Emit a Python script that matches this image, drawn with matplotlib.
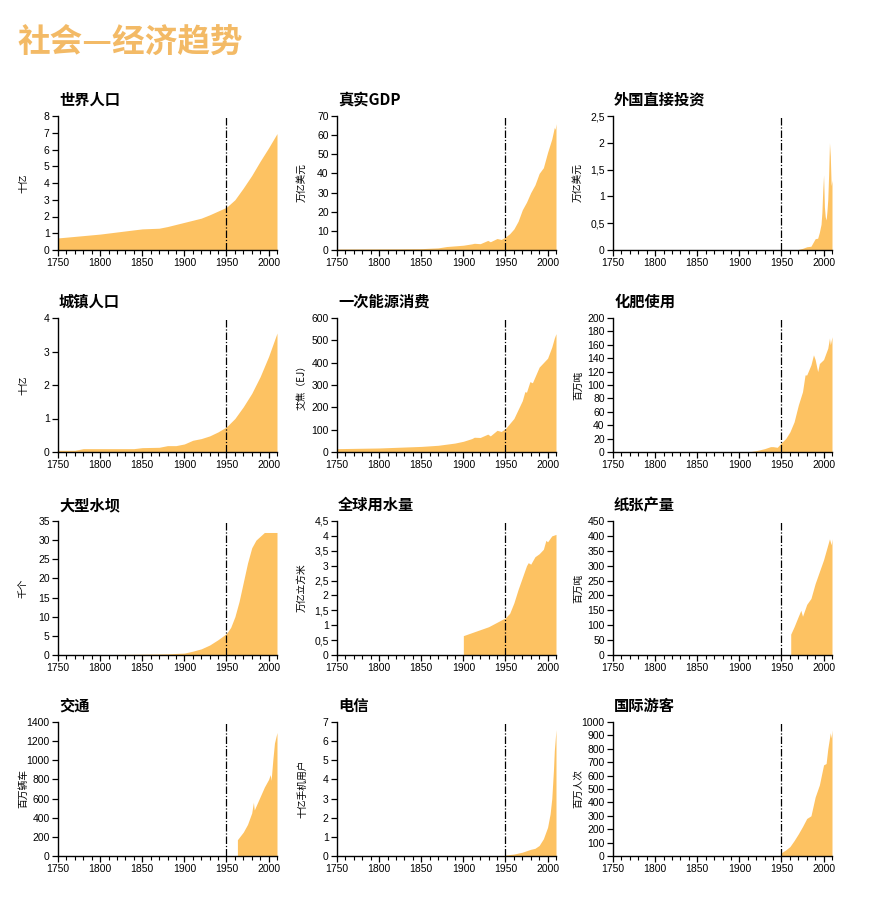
import matplotlib
matplotlib.use("Agg")

import matplotlib.pyplot as plt
import numpy as np
from matplotlib.ticker import MultipleLocator, FuncFormatter

plt.rcParams["font.family"] = ["Noto Sans CJK SC", "DejaVu Sans"]

FILL = "#FDC262"
TITLE_COLOR = "#F3BA66"
NUM_FONT = ["Liberation Sans Narrow", "Liberation Sans", "DejaVu Sans"]

# --- data ---
pop_years = [1750, 1800, 1840, 1850, 1870, 1880, 1900, 1920, 1930, 1950, 1960, 1970, 1980, 1990, 2000, 2010]
pop_vals = [0.72, 0.95, 1.2, 1.26, 1.3, 1.4, 1.65, 1.9, 2.1, 2.55, 3.0, 3.7, 4.45, 5.3, 6.1, 6.95]

gdp_years = [1750, 1820, 1850, 1870, 1880, 1900, 1910, 1913, 1920, 1929, 1932, 1940, 1945, 1950,
             1955, 1960, 1965, 1970, 1975, 1980, 1985, 1990, 1995, 2000, 2005, 2008, 2009, 2010]
gdp_vals = [0.5, 0.6, 0.7, 1.1, 1.8, 2.5, 3.2, 3.5, 3.3, 5.0, 4.3, 6.0, 5.5, 6.8,
            8.5, 11, 15, 21, 25, 30, 34, 40, 43, 51, 58, 64, 63, 66]

fdi_years = [1970, 1975, 1980, 1985, 1990, 1993, 1995, 1997, 1998, 1999, 2000, 2001, 2002, 2003,
             2004, 2005, 2006, 2007, 2008, 2009, 2010]
fdi_vals = [0.01, 0.03, 0.06, 0.07, 0.21, 0.22, 0.33, 0.48, 0.7, 1.1, 1.4, 0.8, 0.62, 0.56,
            0.72, 0.95, 1.4, 2.0, 1.75, 1.2, 1.3]

urb_years = [1750, 1770, 1780, 1840, 1850, 1870, 1880, 1890, 1900, 1910, 1920, 1930, 1940, 1950,
             1960, 1970, 1980, 1990, 2000, 2010]
urb_vals = [0.05, 0.05, 0.1, 0.1, 0.13, 0.14, 0.19, 0.19, 0.24, 0.35, 0.4, 0.48, 0.6, 0.75,
            1.0, 1.35, 1.75, 2.25, 2.85, 3.55]

eng_years = [1750, 1800, 1850, 1870, 1880, 1890, 1900, 1910, 1913, 1920, 1929, 1932, 1940, 1945,
             1950, 1960, 1970, 1973, 1975, 1979, 1982, 1990, 1995, 2000, 2005, 2008, 2010]
eng_vals = [15, 18, 25, 30, 35, 40, 48, 60, 66, 65, 80, 72, 97, 92,
            105, 150, 230, 270, 268, 315, 310, 380, 400, 420, 470, 510, 530]

fert_years = [1910, 1920, 1930, 1937, 1940, 1945, 1950, 1955, 1960, 1965, 1970, 1975, 1978, 1980,
              1985, 1988, 1990, 1993, 1995, 2000, 2005, 2007, 2008, 2010]
fert_vals = [0, 2, 5, 8, 8, 7, 14, 20, 30, 45, 70, 90, 115, 115,
             130, 145, 138, 120, 132, 138, 155, 170, 160, 172]

dam_years = [1750, 1850, 1880, 1900, 1910, 1920, 1930, 1940, 1950, 1955, 1960, 1965, 1970, 1975,
             1980, 1985, 1990, 1995, 2000, 2010]
dam_vals = [0, 0.2, 0.3, 0.5, 1.0, 1.6, 2.6, 4.0, 5.6, 7.2, 10, 14, 19, 24,
            28, 30, 31, 32, 32, 32]

wat_years = [1900, 1910, 1920, 1930, 1940, 1950, 1955, 1960, 1965, 1970, 1975, 1977, 1980, 1985,
             1990, 1995, 1998, 2000, 2005, 2010]
wat_vals = [0.65, 0.75, 0.85, 0.95, 1.1, 1.25, 1.4, 1.75, 2.2, 2.6, 3.0, 3.1, 3.05, 3.3,
            3.4, 3.55, 3.85, 3.8, 4.0, 4.05]

pap_years = [1961, 1965, 1970, 1973, 1975, 1980, 1985, 1990, 1995, 2000, 2005, 2007, 2009, 2010]
pap_vals = [70, 95, 130, 150, 130, 170, 190, 240, 280, 320, 370, 390, 370, 390]

car_years = [1963, 1970, 1975, 1980, 1982, 1983, 1990, 1995, 2000, 2002, 2003, 2005, 2007, 2010]
car_vals = [170, 250, 330, 450, 560, 480, 620, 720, 800, 850, 790, 1000, 1180, 1290]

tel_years = [1950, 1960, 1970, 1980, 1985, 1990, 1995, 2000, 2003, 2005, 2007, 2008, 2010]
tel_vals = [0.05, 0.1, 0.2, 0.35, 0.4, 0.55, 0.9, 1.5, 2.2, 3.0, 4.5, 5.5, 6.6]

tour_years = [1950, 1955, 1960, 1965, 1970, 1975, 1980, 1985, 1990, 1995, 2000, 2003, 2005, 2008, 2009, 2010]
tour_vals = [25, 45, 70, 115, 165, 220, 280, 300, 440, 530, 680, 690, 800, 920, 880, 940]

titles = ["世界人口", "真实GDP", "外国直接投资",
          "城镇人口", "一次能源消费", "化肥使用",
          "大型水坝", "全球用水量", "纸张产量",
          "交通", "电信", "国际游客"]
ylabels = ["十亿", "万亿美元", "万亿美元",
           "十亿", "艾焦（EJ）", "百万吨",
           "千个", "万亿立方米", "百万吨",
           "百万辆车", "十亿手机用户", "百万人次"]
ymax = [8, 70, 2.5, 4, 600, 200, 35, 4.5, 450, 1400, 7, 1000]
ystep = [1, 10, 0.5, 1, 100, 20, 5, 0.5, 50, 200, 1, 100]
series = [(pop_years, pop_vals), (gdp_years, gdp_vals), (fdi_years, fdi_vals),
          (urb_years, urb_vals), (eng_years, eng_vals), (fert_years, fert_vals),
          (dam_years, dam_vals), (wat_years, wat_vals), (pap_years, pap_vals),
          (car_years, car_vals), (tel_years, tel_vals), (tour_years, tour_vals)]

W, H = 874, 902
fig = plt.figure(figsize=(W / 100, H / 100), dpi=100)

col_left = [58, 337, 613]
row_top = [116, 318, 521, 722]
aw, ah = 219, 134

fig.text(18 / W, 1 - 42 / H, "社会—经济趋势", color=TITLE_COLOR, fontsize=23.5,
         fontweight="bold", ha="left", va="center")

comma = FuncFormatter(lambda v, p: f"{v:g}".replace(".", ","))

for i, (yrs, vals) in enumerate(series):
    r, c = divmod(i, 3)
    ax = fig.add_axes([col_left[c] / W, 1 - (row_top[r] + ah) / H, aw / W, ah / H])
    ax.fill_between(np.array(yrs), np.array(vals), 0, color=FILL, lw=0)
    ax.axvline(1950, color="black", lw=0.9, ls=(0, (6, 1.5, 1, 1.5)))

    ax.set_xlim(1750, 2010)
    ax.set_ylim(0, ymax[i])
    ax.xaxis.set_major_locator(MultipleLocator(50))
    ax.xaxis.set_minor_locator(MultipleLocator(10))
    ax.yaxis.set_major_locator(MultipleLocator(ystep[i]))
    ax.yaxis.set_major_formatter(comma)

    for s in ("top", "right"):
        ax.spines[s].set_visible(False)
    for s in ("left", "bottom"):
        ax.spines[s].set_linewidth(1.0)
    ax.tick_params(which="major", length=4, width=0.9, pad=2, direction="out")
    ax.tick_params(which="minor", length=3, width=0.8, direction="out")
    for lab in ax.get_xticklabels() + ax.get_yticklabels():
        lab.set_family(NUM_FONT)
        lab.set_fontsize(7.5)

    ax.set_ylabel(ylabels[i], fontsize=7)
    ax.yaxis.set_label_coords(-30 / aw, 0.5)

    ax.text(0.005, 1 + 16 / ah, titles[i], transform=ax.transAxes, fontsize=11,
            fontweight="bold", ha="left", va="center")

fig.savefig("out.png", dpi=100)
